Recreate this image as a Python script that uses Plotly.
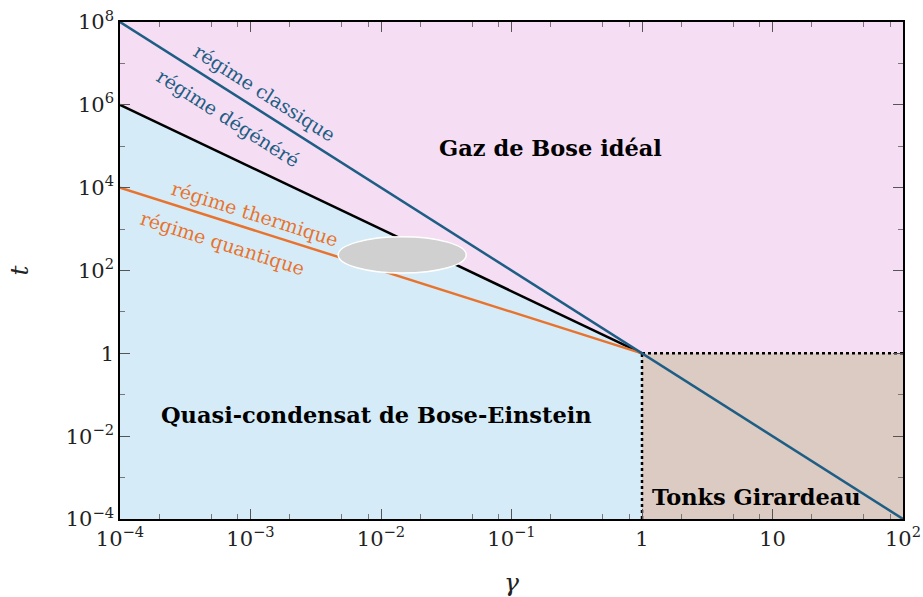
import plotly.graph_objects as go

# ---- data ----
gamma_full = [1e-4, 1e2]
t_classique = [1e8, 1e-4]          # régime classique / dégénéré boundary
gamma_qc = [1e-4, 1.0]
t_degenere = [1e6, 1.0]            # quasi-condensat boundary
t_thermique = [1e4, 1.0]           # thermique / quantique boundary

# regions (polygons)
pink_x = [1e-4, 1e2, 1e2, 1.0, 1e-4]
pink_y = [1e8, 1e8, 1.0, 1.0, 1e6]
blue_x = [1e-4, 1.0, 1.0, 1e-4]
blue_y = [1e6, 1.0, 1e-4, 1e-4]
tan_x = [1.0, 1e2, 1e2, 1.0]
tan_y = [1.0, 1.0, 1e-4, 1e-4]

# dotted borders of Tonks region
dot_v_x = [1.0, 1.0]
dot_v_y = [1e-4, 1.0]
dot_h_x = [1.0, 1e2]
dot_h_y = [1.0, 1.0]

# ellipse extents
ell_x = [4.7e-3, 4.5e-2]
ell_y = [87, 650]

x_tickvals = [1e-4, 1e-3, 1e-2, 1e-1, 1, 10, 1e2]
x_ticktext = ["10<sup>−4</sup>", "10<sup>−3</sup>", "10<sup>−2</sup>", "10<sup>−1</sup>", "1", "10", "10<sup>2</sup>"]
y_tickvals = [1e-4, 1e-2, 1, 1e2, 1e4, 1e6, 1e8]
y_ticktext = ["10<sup>−4</sup>", "10<sup>−2</sup>", "1", "10<sup>2</sup>", "10<sup>4</sup>", "10<sup>6</sup>", "10<sup>8</sup>"]
x_minor = [m * 10.0 ** d for d in range(-4, 2) for m in (2, 5, 8)]
y_minor = [10.0 ** d for d in (-3, -1, 1, 3, 5, 7)]

PINK = "#F5DDF3"
LBLUE = "#D5ECF8"
TAN = "#DCCBC3"
BLUE = "#1E5E84"
ORANGE = "#E8732E"
SERIF = "DejaVu Serif"

fig = go.Figure()
for xs, ys, c in [(pink_x, pink_y, PINK), (blue_x, blue_y, LBLUE), (tan_x, tan_y, TAN)]:
    fig.add_trace(go.Scatter(x=xs, y=ys, fill="toself", fillcolor=c, mode="none",
                             showlegend=False, hoverinfo="skip"))

fig.add_trace(go.Scatter(x=gamma_qc, y=t_degenere, mode="lines",
                         line=dict(color="black", width=2.5), showlegend=False))
fig.add_trace(go.Scatter(x=gamma_qc, y=t_thermique, mode="lines",
                         line=dict(color=ORANGE, width=2.5), showlegend=False))
fig.add_trace(go.Scatter(x=dot_v_x, y=dot_v_y, mode="lines",
                         line=dict(color="black", width=2.5, dash="dot"), showlegend=False))
fig.add_trace(go.Scatter(x=dot_h_x, y=dot_h_y, mode="lines",
                         line=dict(color="black", width=2.5, dash="dot"), showlegend=False))
fig.add_trace(go.Scatter(x=gamma_full, y=t_classique, mode="lines",
                         line=dict(color=BLUE, width=2.5), showlegend=False))

fig.add_shape(type="circle", xref="x", yref="y",
              x0=ell_x[0], x1=ell_x[1], y0=ell_y[0], y1=ell_y[1],
              fillcolor="#D0D0D0", line=dict(color="white", width=1.5), layer="above")

def ann(text, lx, ly, color, size, angle=0, bold=False):
    if bold:
        text = "<b>" + text + "</b>"
    fig.add_annotation(x=lx, y=ly, xref="x", yref="y", text=text, showarrow=False,
                       textangle=angle, font=dict(family=SERIF, size=size, color=color),
                       xanchor="center", yanchor="middle")

ann("régime classique", -2.889, 6.29, BLUE, 19, 32.4)
ann("régime dégénéré", -3.172, 5.68, BLUE, 19, 32.4)
ann("régime thermique", -2.966, 3.37, ORANGE, 19, 17.6)
ann("régime quantique", -3.218, 2.66, ORANGE, 19, 17.6)
ann("Gaz de Bose idéal", -0.705, 4.96, "black", 22.5, bold=True)
ann("Quasi-condensat de Bose-Einstein", -2.031, -1.49, "black", 22.5, bold=True)
ann("Tonks Girardeau", 0.881, -3.47, "black", 22.5, bold=True)

axis_common = dict(type="log", showgrid=False, zeroline=False, showline=True,
                   linecolor="black", linewidth=1.5, mirror="allticks",
                   ticks="inside", ticklen=10, tickwidth=1, tickcolor="#555",
                   automargin=False, ticklabeloverflow="allow",
                   tickfont=dict(family=SERIF, size=21, color="#222"))

fig.update_xaxes(**axis_common, range=[-4, 2], tickvals=x_tickvals, ticktext=x_ticktext,
                 minor=dict(tickvals=x_minor, ticks="inside", ticklen=5, tickcolor="#777"),
                 title=dict(text="<i>γ</i>", font=dict(family=SERIF, size=25, color="#222"), standoff=26))
fig.update_yaxes(**axis_common, range=[-4, 8], tickvals=y_tickvals, ticktext=y_ticktext,
                 minor=dict(tickvals=y_minor, ticks="inside", ticklen=5, tickcolor="#777"),
                 title=dict(text="<i>t</i>", font=dict(family=SERIF, size=25, color="#222"), standoff=30))

fig.update_layout(width=923, height=597, margin=dict(l=120, r=20, t=22, b=78),
                  plot_bgcolor="white", paper_bgcolor="white", showlegend=False)

# remove the default 8px page margin so the figure fills the window exactly
fig.write_html("out.html", config={"displayModeBar": False},
               post_script="document.body.style.margin='0';")
